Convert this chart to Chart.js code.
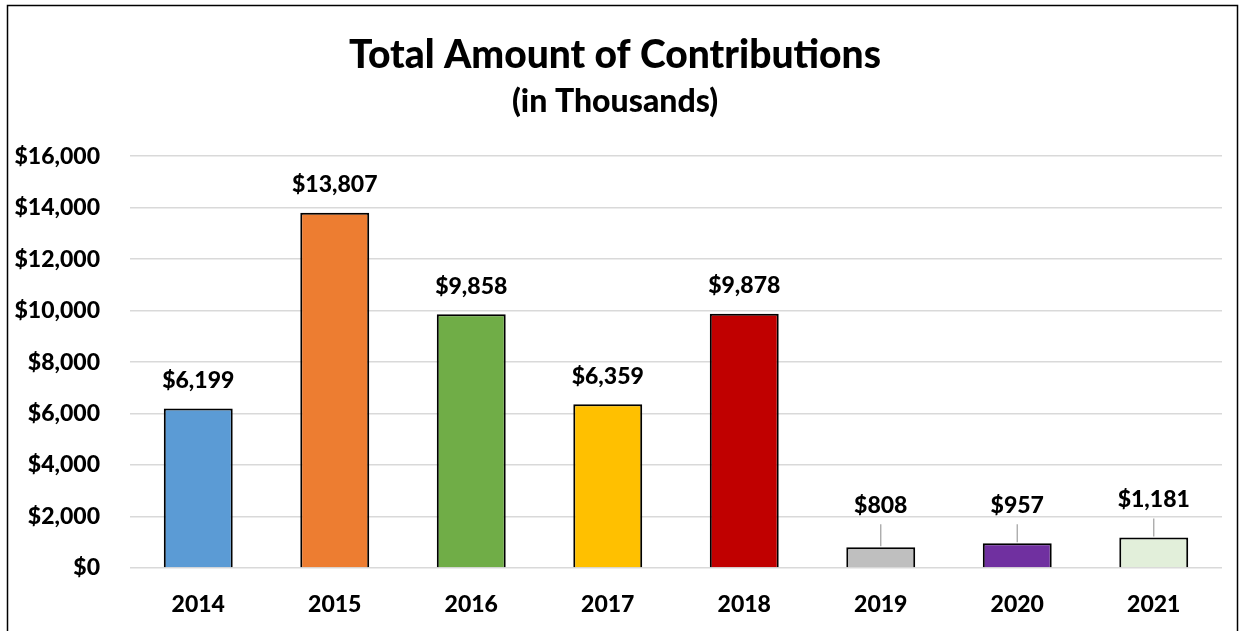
<!DOCTYPE html>
<html>
<head>
<meta charset="utf-8">
<script src="https://cdn.jsdelivr.net/npm/chart.js@4"></script>
<style>
  html, body { margin: 0; padding: 0; background: #fff; overflow: hidden; }
  canvas { display: block; }
</style>
</head>
<body>
<canvas id="contribChart" width="1241" height="631"></canvas>
<script>
const years = ["2014", "2015", "2016", "2017", "2018", "2019", "2020", "2021"];
const amounts = [6199, 13807, 9858, 6359, 9878, 808, 957, 1181];
const barColors = ["#5B9BD5", "#ED7D31", "#70AD47", "#FFC000", "#C00000", "#BFBFBF", "#7030A0", "#E2EFDA"];

const FONT = "Lato, 'Open Sans', sans-serif";

const money = v => "$" + Number(v).toLocaleString("en-US");

// outer frame like the exported picture
const framePlugin = {
  id: "frame",
  afterDraw(chart) {
    const ctx = chart.ctx;
    ctx.save();
    ctx.strokeStyle = "#000";
    ctx.lineWidth = 1.5;
    ctx.strokeRect(7.5, 5.5, 1230, 700);
    ctx.restore();
  }
};

// value labels, with leader lines for the short bars
const valueLabels = {
  id: "valueLabels",
  afterDatasetsDraw(chart, args, opts) {
    const ctx = chart.ctx;
    const meta = chart.getDatasetMeta(0);
    ctx.save();
    ctx.font = "900 23px " + FONT;
    ctx.fillStyle = "#000";
    ctx.textAlign = "center";
    ctx.textBaseline = "middle";
    meta.data.forEach((bar, i) => {
      const lift = opts.lifted[i];
      let y = bar.y - 28;
      if (lift) {
        y = bar.y - lift;
        ctx.strokeStyle = "#a6a6a6";
        ctx.lineWidth = 1.3;
        ctx.beginPath();
        ctx.moveTo(bar.x, y + 19);
        ctx.lineTo(bar.x, bar.y - 1);
        ctx.stroke();
      }
      ctx.fillText(money(amounts[i]), bar.x, y);
    });
    ctx.restore();
  }
};

new Chart(document.getElementById("contribChart"), {
  type: "bar",
  data: {
    labels: years,
    datasets: [{
      data: amounts,
      backgroundColor: barColors,
      borderColor: "#000",
      borderWidth: 2,
      borderSkipped: "bottom",
      categoryPercentage: 1,
      barPercentage: 0.505
    }]
  },
  options: {
    responsive: false,
    animation: false,
    devicePixelRatio: 1,
    layout: { padding: { left: 8, right: 19, top: 32, bottom: 0 } },
    plugins: {
      legend: { display: false },
      tooltip: { enabled: false },
      title: {
        display: true,
        text: "Total Amount of Contributions",
        color: "#000",
        font: { family: FONT, size: 39, weight: 900 },
        padding: { top: 0, bottom: 4 }
      },
      subtitle: {
        display: true,
        text: "(in Thousands)",
        color: "#000",
        font: { family: FONT, size: 32, weight: 900 },
        padding: { top: 0, bottom: 35 }
      },
      valueLabels: { lifted: { 5: 42, 6: 38, 7: 38 } }
    },
    scales: {
      x: {
        grid: { display: false, drawTicks: false },
        border: { display: false },
        ticks: {
          color: "#000",
          font: { family: FONT, size: 23, weight: 900 },
          padding: 23
        },
        afterFit(axis) { axis.height = 63; }
      },
      y: {
        min: 0,
        max: 16000,
        ticks: {
          stepSize: 2000,
          color: "#000",
          font: { family: FONT, size: 23, weight: 900 },
          padding: 30,
          callback: v => money(v)
        },
        grid: { color: "#d9d9d9", lineWidth: 1.5, drawTicks: false },
        border: { display: false },
        afterFit(axis) { axis.width = 122; }
      }
    }
  },
  plugins: [framePlugin, valueLabels]
});
</script>
</body>
</html>
